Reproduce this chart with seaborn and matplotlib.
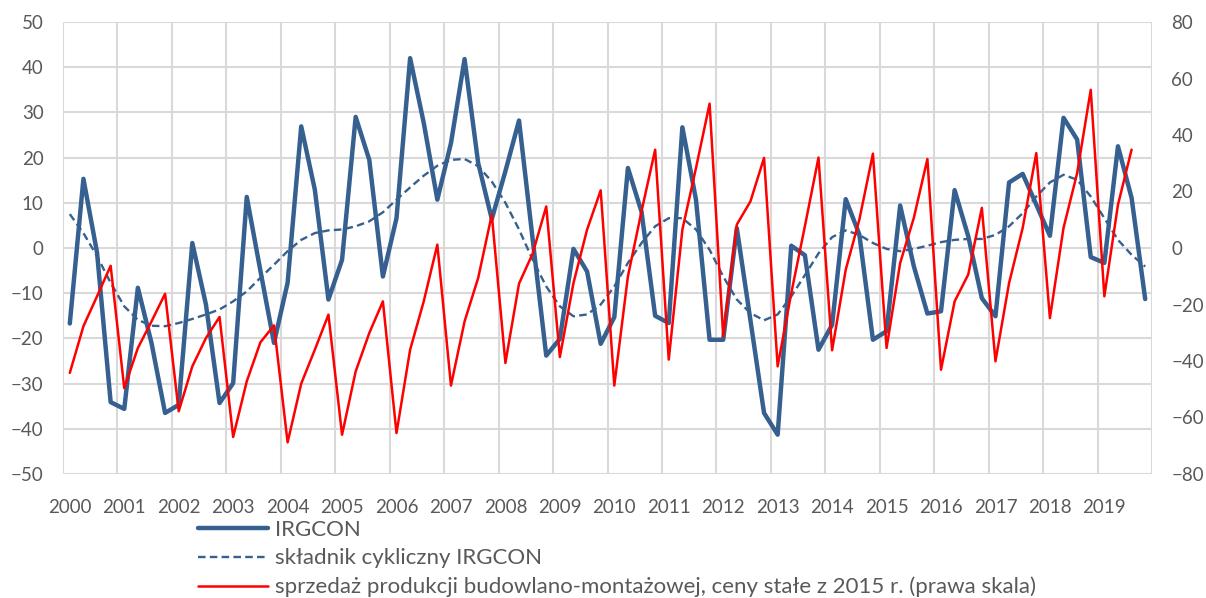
import numpy as np
import pandas as pd
import seaborn as sns
import matplotlib.pyplot as plt
from matplotlib.lines import Line2D

# === data (quarterly, 2000Q1 - 2019Q4) ===
years = list(range(2000, 2020))

irgcon = [
    -16.7, 15.3, -1.0, -34.1, -35.6, -8.8, -21.0, -36.5,
    -34.7, 1.1, -12.5, -34.3, -29.9, 11.3, -5.0, -21.0,
    -7.7, 26.9, 12.9, -11.4, -2.6, 29.0, 19.5, -6.3,
    6.6, 42.0, 27.7, 10.7, 23.2, 41.8, 18.8, 6.4,
    17.0, 28.2, 2.0, -23.8, -20.1, -0.2, -5.2, -21.2,
    -15.3, 17.7, 8.0, -15.0, -16.6, 26.7, 10.7, -20.3,
    -20.3, 4.4, -16.0, -36.5, -41.3, 0.5, -1.6, -22.5,
    -17.0, 10.8, 3.0, -20.3, -18.4, 9.4, -4.0, -14.5,
    -14.0, 12.8, 2.6, -11.1, -15.1, 14.5, 16.4, 9.6,
    2.7, 28.8, 24.0, -2.0, -3.3, 22.5, 11.1, -11.3,
]

irgcon_cycle = [
    7.5, 3.3, -1.8, -7.7, -12.9, -15.9, -17.2, -17.3,
    -16.6, -15.7, -14.7, -13.6, -11.8, -9.6, -6.6, -3.7,
    -0.7, 1.8, 3.3, 3.9, 4.1, 4.8, 5.9, 7.9,
    10.7, 13.4, 16.0, 18.2, 19.5, 19.7, 18.1, 14.7,
    10.0, 4.1, -2.6, -8.5, -12.9, -15.1, -14.7, -12.5,
    -8.5, -3.3, 1.1, 4.8, 6.6, 6.6, 4.1, -0.4,
    -6.3, -11.4, -14.4, -16.0, -14.7, -10.7, -6.0, -1.2,
    2.4, 3.9, 2.9, 1.1, -0.2, -0.7, -0.2, 0.5,
    1.3, 1.8, 2.0, 2.0, 2.9, 4.8, 7.7, 11.4,
    14.5, 16.2, 15.1, 11.4, 6.6, 1.8, -1.5, -4.1,
]

sprzedaz = [
    -44.2, -27.7, -17.1, -6.3, -49.6, -35.4, -26.0, -16.2,
    -57.8, -41.9, -31.9, -24.4, -66.9, -47.2, -33.4, -27.4,
    -68.8, -48.0, -36.0, -23.6, -66.1, -43.7, -30.1, -18.9,
    -65.5, -36.0, -18.9, 1.2, -48.7, -26.0, -10.6, 11.8,
    -40.7, -12.6, -2.0, 14.7, -38.6, -12.4, 6.5, 20.4,
    -48.7, -10.0, 13.0, 34.8, -39.5, 6.5, 28.3, 51.1,
    -31.3, 8.3, 16.5, 31.9, -41.9, -16.0, 7.7, 32.0,
    -36.2, -7.7, 10.0, 33.4, -35.4, -5.3, 10.6, 31.5,
    -43.1, -18.9, -9.4, 14.2, -40.1, -12.4, 7.1, 33.6,
    -24.8, 7.1, 26.5, 56.0, -17.1, 15.3, 34.8, np.nan,
]

labels = [
    "IRGCON",
    "składnik cykliczny IRGCON",
    "sprzedaż produkcji budowlano-montażowej, ceny stałe z 2015 r. (prawa skala)",
]

df = pd.DataFrame({
    "q": np.arange(len(irgcon)),
    "irgcon": irgcon,
    "cycle": irgcon_cycle,
    "sprzedaz": sprzedaz,
})

# === style ===
sns.set_style("white")
plt.rcParams["font.family"] = ["Lato", "DejaVu Sans"]
txt = "#595959"
grid = "#d9d9d9"
blue = "#36608f"
red = "#ff0000"
fs = 13.5

fig = plt.figure(figsize=(12.06, 5.98), dpi=100)
ax = fig.add_axes([63 / 1206, 1 - 474 / 598, (1152 - 63) / 1206, (474 - 22) / 598])
ax2 = ax.twinx()

sns.lineplot(data=df, x="q", y="irgcon", ax=ax, color=blue, linewidth=3.2,
             solid_joinstyle="round", zorder=3)
sns.lineplot(data=df, x="q", y="cycle", ax=ax, color=blue, linewidth=1.7,
             dashes=False, zorder=3)
ax.lines[1].set_dashes((3.2, 1.8))
sns.lineplot(data=df, x="q", y="sprzedaz", ax=ax2, color=red, linewidth=1.8,
             solid_joinstyle="round", zorder=3)

# === axes ===
n = len(irgcon)
ax.set_xlim(-0.5, n - 0.5)
ax.set_ylim(-50, 50)
ax2.set_ylim(-80, 80)
ax.set_yticks(range(-50, 51, 10))
ax2.set_yticks(range(-80, 81, 20))
ax.set_xticks(np.arange(0, n, 4))
ax.set_xticklabels([str(y) for y in years])

ax.grid(False)
ax2.grid(False)
for v in np.arange(-0.5, n, 4):
    ax.axvline(v, color=grid, linewidth=1.5, zorder=0)
for h in range(-50, 51, 10):
    ax.axhline(h, color=grid, linewidth=1.5, zorder=0)

for a in (ax, ax2):
    for s in a.spines.values():
        s.set_visible(False)
    a.tick_params(axis="both", which="both", length=0, labelsize=fs, colors=txt)
    a.set_xlabel("")
    a.set_ylabel("")
ax.tick_params(axis="y", pad=14)
ax2.tick_params(axis="y", pad=14)
ax.tick_params(axis="x", pad=18)

# === legend ===
handles = [
    Line2D([], [], color=blue, linewidth=3.2),
    Line2D([], [], color=blue, linewidth=1.7, dashes=(3.2, 1.8)),
    Line2D([], [], color=red, linewidth=1.8),
]
fig.legend(handles, labels, loc="upper left", bbox_to_anchor=(198 / 1206, 1 - 520 / 598),
           frameon=False, fontsize=16, labelcolor=txt, handlelength=3.15,
           handletextpad=0.32, labelspacing=0.38, borderpad=0, borderaxespad=0)

fig.savefig("out.png", dpi=100)
